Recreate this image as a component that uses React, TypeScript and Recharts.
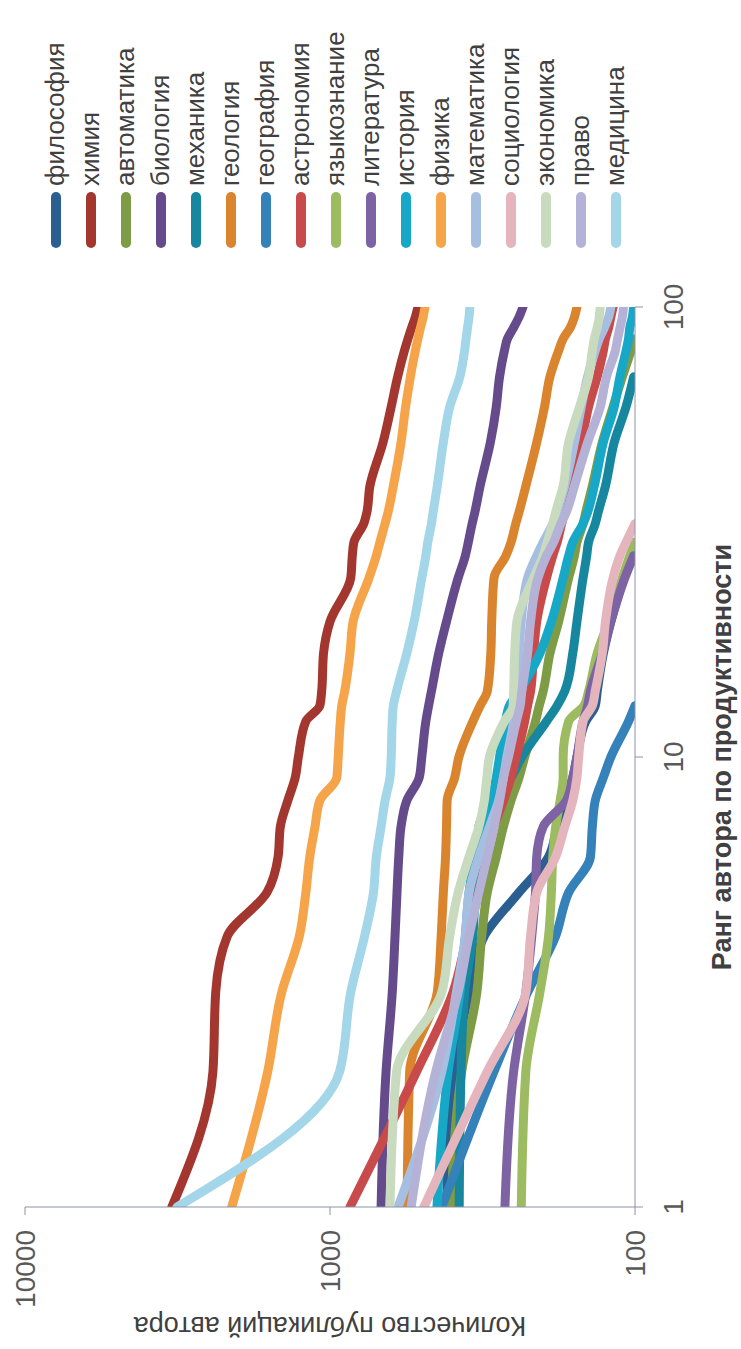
import React from "react";
import { LineChart, Line, XAxis, YAxis, Label } from "recharts";

// ranks on the x axis (log scale); series that stop early are null afterwards
const ranks = [1, 2, 3, 4, 5, 6, 7, 8, 9, 10, 12, 13, 14, 17, 20, 25, 28, 30, 33, 35, 40, 50, 60, 70, 80, 85, 90, 95, 100];

const rankTicks = [1, 10, 100];
const valueTicks = [100, 1000, 10000];

const filosofiya = [415, 390, 350, 312, 240, 192, 180, 170, 160, 155, 145, 135, 133, 127, 120, 109, 103, 100, null, null, null, null, null, null, null, null, null, null, null];
const khimiya = [3300, 2420, 2370, 2170, 1610, 1480, 1455, 1375, 1300, 1270, 1200, 1080, 1065, 1050, 1000, 855, 845, 835, 775, 757, 740, 670, 630, 600, 570, 555, 540, 525, 515];
const avtomatika = [401, 370, 330, 318, 305, 285, 270, 255, 240, 230, 212, 206, 200, 190, 178, 165, 158, 155, 148, 145, 138, 128, 118, 110, 103, 100, null, null, null];
const biologiya = [680, 655, 625, 612, 603, 595, 585, 560, 510, 500, 485, 475, 465, 440, 415, 380, 360, 352, 342, 335, 322, 298, 285, 278, 268, 262, 250, 240, 233];
const mekhanika = [377, 372, 362, 340, 335, 330, 325, 290, 255, 235, 195, 180, 170, 160, 155, 148, 144, 142, 135, 132, 125, 117, 107, 101, null, null, null, null, null];
const geologiya = [559, 548, 445, 432, 425, 418, 415, 413, 390, 378, 340, 322, 305, 297, 295, 290, 265, 255, 246, 240, 228, 210, 198, 190, 178, 172, 163, 158, 155];
const geografiya = [430, 290, 225, 182, 165, 140, 138, 135, 127, 120, 105, 100, null, null, null, null, null, null, null, null, null, null, null, null, null, null, null, null, null];
const astronomiya = [860, 520, 395, 355, 325, 305, 290, 270, 255, 245, 230, 225, 220, 215, 210, 195, 186, 180, 174, 170, 162, 150, 142, 133, 127, 125, 122, 120, 118];
const yazykoznanie = [236, 228, 205, 192, 188, 186, 182, 176, 172, 172, 165, 147, 142, 133, 122, 110, 104, 100, null, null, null, null, null, null, null, null, null, null, null];
const literatura = [267, 250, 228, 218, 212, 210, 200, 168, 160, 155, 148, 143, 140, 128, 120, 108, 101, null, null, null, null, null, null, null, null, null, null, null, null];
const istoriya = [446, 410, 375, 360, 350, 335, 315, 295, 285, 278, 266, 258, 240, 205, 188, 172, 165, 160, 148, 143, 136, 127, 117, 112, 107, 105, 104, 102, 101];
const fizika = [2100, 1600, 1440, 1260, 1200, 1165, 1120, 1080, 950, 940, 925, 915, 895, 860, 840, 745, 705, 686, 660, 645, 620, 585, 565, 545, 525, 515, 505, 495, 488];
const matematika = [598, 430, 385, 360, 350, 325, 300, 280, 270, 263, 250, 247, 245, 240, 236, 225, 210, 200, 186, 180, 170, 158, 150, 143, 135, 131, 126, 122, 120];
const sotsiologiya = [492, 305, 228, 220, 210, 182, 170, 160, 155, 153, 148, 138, 135, 128, 125, 118, 112, 107, 100, null, null, null, null, null, null, null, null, null, null];
const ekonomika = [636, 605, 430, 405, 380, 350, 325, 312, 306, 300, 268, 251, 250, 248, 244, 215, 200, 194, 186, 182, 172, 165, 152, 142, 138, 136, 133, 131, 130];
const pravo = [542, 450, 380, 350, 325, 305, 290, 278, 270, 260, 245, 238, 235, 225, 220, 208, 195, 185, 175, 168, 158, 143, 130, 124, 116, 114, 112, 110, 109];
const meditsina = [3175, 930, 855, 770, 720, 705, 680, 660, 636, 630, 625, 620, 605, 560, 530, 500, 485, 478, 465, 459, 445, 425, 405, 375, 362, 358, 354, 350, 348];

const series = [
  { name: "философия", color: "#2C5F91", values: filosofiya },
  { name: "химия", color: "#A3372F", values: khimiya },
  { name: "автоматика", color: "#7E9B45", values: avtomatika },
  { name: "биология", color: "#654B8B", values: biologiya },
  { name: "механика", color: "#17879F", values: mekhanika },
  { name: "геология", color: "#DA852D", values: geologiya },
  { name: "география", color: "#3581BA", values: geografiya },
  { name: "астрономия", color: "#C84A4B", values: astronomiya },
  { name: "языкознание", color: "#9DBB61", values: yazykoznanie },
  { name: "литература", color: "#7E63A4", values: literatura },
  { name: "история", color: "#18A8C7", values: istoriya },
  { name: "физика", color: "#F6A44A", values: fizika },
  { name: "математика", color: "#A6BFE0", values: matematika },
  { name: "социология", color: "#E5B5BE", values: sotsiologiya },
  { name: "экономика", color: "#C8DBBE", values: ekonomika },
  { name: "право", color: "#B5B2D8", values: pravo },
  { name: "медицина", color: "#A3D6E9", values: meditsina },
];

const rows = ranks.map((rank, i) => {
  const row: Record<string, number | null> = { rank };
  series.forEach((s) => {
    row[s.name] = s.values[i];
  });
  return row;
});

// chart is drawn landscape, then turned a quarter counter-clockwise
const W = 1349;
const H = 741;
const font = "'Liberation Sans', Arial, sans-serif";
const axisColor = "#8C93A8";

export default function App() {
  return (
    <div style={{ position: "fixed", left: 0, top: 0, width: H, height: W, background: "#fff", overflow: "hidden" }}>
      <div
        style={{
          position: "absolute",
          left: 0,
          top: 0,
          width: W,
          height: H,
          transformOrigin: "0 0",
          transform: `translateY(${W}px) rotate(-90deg)`,
          fontFamily: font,
        }}
      >
        <LineChart width={W} height={H} data={rows} margin={{ top: 25, right: 307, bottom: 46, left: 42 }}>
          <XAxis
            dataKey="rank"
            type="number"
            scale="log"
            domain={[1, 100]}
            ticks={rankTicks}
            allowDataOverflow
            height={60}
            stroke={axisColor}
            tickSize={8}
            tickMargin={20}
            tick={{ fill: "#595959", fontSize: 28, fontFamily: font }}
          >
            <Label
              content={() => (
                <text x={592} y={731} textAnchor="middle" fontSize={27} fontWeight="bold" fill="#404040" fontFamily={font}>
                  Ранг автора по продуктивности
                </text>
              )}
            />
          </XAxis>
          <YAxis
            type="number"
            scale="log"
            domain={[100, 10000]}
            ticks={valueTicks}
            allowDataOverflow
            width={100}
            stroke={axisColor}
            tickSize={8}
            tickMargin={15}
            tick={{ fill: "#595959", fontSize: 28, fontFamily: font }}
          >
            <Label
              content={() => (
                <text
                  x={23}
                  y={330}
                  transform="rotate(-90, 23, 330)"
                  textAnchor="middle"
                  dominantBaseline="central"
                  fontSize={27}
                  fill="#404040"
                  fontFamily={font}
                >
                  Количество публикаций автора
                </text>
              )}
            />
          </YAxis>
          {series.map((s) => (
            <Line
              key={s.name}
              type="monotone"
              dataKey={s.name}
              stroke={s.color}
              strokeWidth={9}
              strokeLinecap="round"
              strokeLinejoin="round"
              dot={false}
              activeDot={false}
              connectNulls
              isAnimationActive={false}
            />
          ))}
        </LineChart>

        <div style={{ position: "absolute", left: 1101, top: 38 }}>
          {series.map((s) => (
            <div key={s.name} style={{ display: "flex", alignItems: "center", height: 35 }}>
              <div style={{ width: 56, height: 10, borderRadius: 5, background: s.color }} />
              <span style={{ marginLeft: 6, fontSize: 26, lineHeight: "35px", color: "#404040", whiteSpace: "nowrap" }}>
                {s.name}
              </span>
            </div>
          ))}
        </div>
      </div>
    </div>
  );
}
